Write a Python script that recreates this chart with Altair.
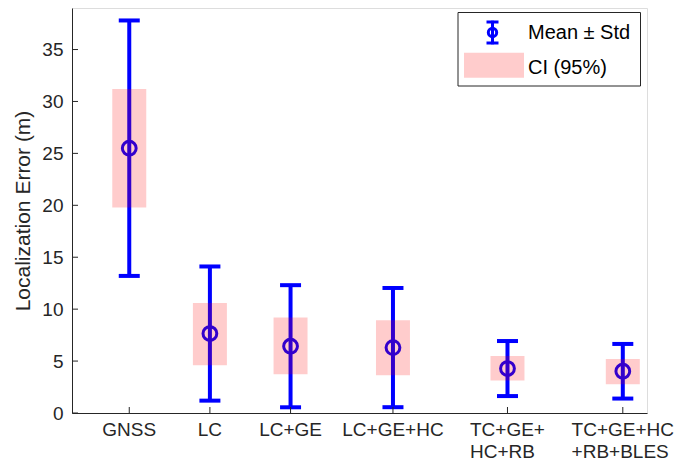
import altair as alt
import pandas as pd

# ---- data ----
categories = ["GNSS", "LC", "LC+GE", "LC+GE+HC", "TC+GE+\nHC+RB", "TC+GE+HC\n+RB+BLES"]
positions = [1, 2, 3, 4.27, 5.69, 7.12]
means = [25.5, 7.65, 6.43, 6.30, 4.28, 4.02]
stds = [12.3, 6.46, 5.88, 5.74, 2.65, 2.63]
ci_low = [19.8, 4.6, 3.73, 3.64, 3.12, 2.77]
ci_high = [31.2, 10.6, 9.2, 8.94, 5.5, 5.2]
y_ticks = [0, 5, 10, 15, 20, 25, 30, 35]

df = pd.DataFrame({
    "label": categories,
    "pos": positions,
    "mean": means,
    "std": stds,
    "ci_lo": ci_low,
    "ci_hi": ci_high,
})
df["lo"] = df["mean"] - df["std"]
df["hi"] = df["mean"] + df["std"]
df["multi"] = df["label"].str.contains("\n")

W, H = 575, 405
FONT = "Liberation Sans"
AX = "#262626"
BLUE = "#0000ff"
FS = 19

# approximate Arial/Liberation Sans advance widths (em) to left-align wrapped lines
_w = {"T": .611, "C": .722, "+": .584, "G": .778, "E": .667, "H": .722,
      "R": .722, "B": .667, "L": .556, "S": .667, "N": .722}


def first_line_width(s):
    return sum(_w.get(c, .6) for c in s.split("\n")[0]) * FS


xs = alt.Scale(domain=[0.29, 7.42], nice=False, zero=False)
ys = alt.Scale(domain=[0, 39], nice=False)

x_enc = alt.X("pos:Q", scale=xs,
              axis=alt.Axis(labels=False, ticks=False, grid=False, title=None,
                            domainColor=AX, domainWidth=1))
y_enc = alt.Y("mean:Q", scale=ys,
              axis=alt.Axis(values=y_ticks, tickSize=0, grid=False,
                            labelFont=FONT, labelFontSize=FS, labelColor=AX,
                            labelPadding=9, domainColor=AX, domainWidth=1,
                            title="Localization Error (m)", titleFont=FONT,
                            titleFontSize=21, titleFontWeight="normal",
                            titleColor=AX, titlePadding=8))

base = alt.Chart(df)

whisker = base.mark_rule(color=BLUE, strokeWidth=4).encode(
    x=x_enc, y=alt.Y("lo:Q", scale=ys), y2="hi:Q")
cap_lo = base.mark_rule(color=BLUE, strokeWidth=4, xOffset=-10.5, x2Offset=10.5,
                        strokeCap="butt").encode(
    x=alt.X("pos:Q", scale=xs), x2="pos:Q", y=alt.Y("lo:Q", scale=ys))
cap_hi = base.mark_rule(color=BLUE, strokeWidth=4, xOffset=-10.5, x2Offset=10.5,
                        strokeCap="butt").encode(
    x=alt.X("pos:Q", scale=xs), x2="pos:Q", y=alt.Y("hi:Q", scale=ys))
points = base.mark_point(shape="circle", filled=False, color=BLUE,
                         strokeWidth=3, size=190, opacity=1).encode(
    x=alt.X("pos:Q", scale=xs), y=y_enc)
ci = base.mark_rect(color="#ff0000", opacity=0.2, xOffset=-17, x2Offset=17).encode(
    x=alt.X("pos:Q", scale=xs), x2="pos:Q",
    y=alt.Y("ci_lo:Q", scale=ys), y2="ci_hi:Q")

# inward ticks like MATLAB
ytick_df = pd.DataFrame({"v": y_ticks})
yticks = alt.Chart(ytick_df).mark_rule(color=AX, strokeWidth=1).encode(
    y=alt.Y("v:Q", scale=ys), x=alt.value(0), x2=alt.value(6))
xticks = base.mark_rule(color=AX, strokeWidth=1).encode(
    x=alt.X("pos:Q", scale=xs), y=alt.value(H), y2=alt.value(H - 6))

# category labels: single-line centred, wrapped ones left-aligned as a centred block
label_layers = [
    base.transform_filter("!datum.multi").mark_text(
        font=FONT, fontSize=FS, color=AX, align="center", baseline="top").encode(
        x=alt.X("pos:Q", scale=xs), y=alt.value(H + 8), text="label:N")
]
for lab in df.loc[df["multi"], "label"]:
    label_layers.append(
        alt.Chart(df[df["label"] == lab]).mark_text(
            font=FONT, fontSize=FS, color=AX, align="left", baseline="top",
            lineBreak="\n", lineHeight=22, dx=-first_line_width(lab) / 2).encode(
            x=alt.X("pos:Q", scale=xs), y=alt.value(H + 8), text="label:N")
    )

# ---- legend ----
one = alt.Data(values=[{"a": 1}])
leg_box = alt.Chart(one).mark_rect(fill="white", stroke=AX, strokeWidth=1).encode(
    x=alt.value(386), x2=alt.value(568.5), y=alt.value(4.5), y2=alt.value(78))
leg_bar = alt.Chart(one).mark_rule(color=BLUE, strokeWidth=3).encode(
    x=alt.value(420.5), y=alt.value(12.7), y2=alt.value(36.3))
leg_cap1 = alt.Chart(one).mark_rule(color=BLUE, strokeWidth=3).encode(
    x=alt.value(414.5), x2=alt.value(426.5), y=alt.value(14))
leg_cap2 = alt.Chart(one).mark_rule(color=BLUE, strokeWidth=3).encode(
    x=alt.value(414.5), x2=alt.value(426.5), y=alt.value(35))
leg_circ = alt.Chart(one).mark_point(shape="circle", filled=False, color=BLUE,
                                     strokeWidth=3, size=70, opacity=1).encode(
    x=alt.value(420.5), y=alt.value(24.5))
leg_patch = alt.Chart(one).mark_rect(fill="#ffcccc").encode(
    x=alt.value(392), x2=alt.value(452), y=alt.value(44.7), y2=alt.value(69.7))
leg_t1 = alt.Chart(one).mark_text(font=FONT, fontSize=20, color="black",
                                  align="left", baseline="middle").encode(
    x=alt.value(456), y=alt.value(25), text=alt.value("Mean ± Std"))
leg_t2 = alt.Chart(one).mark_text(font=FONT, fontSize=20, color="black",
                                  align="left", baseline="middle").encode(
    x=alt.value(456), y=alt.value(59.5), text=alt.value("CI (95%)"))

chart = alt.layer(
    whisker, cap_lo, cap_hi, points, ci, yticks, xticks, *label_layers,
    leg_box, leg_bar, leg_cap1, leg_cap2, leg_circ, leg_patch, leg_t1, leg_t2
).properties(
    width=W, height=H,
    autosize=alt.AutoSizeParams(type="none"),
    padding={"left": 64, "top": 0, "right": 36, "bottom": 47},
).configure_view(stroke=None).configure(background="white")

chart.save("out.html", embed_options={"renderer": "svg", "actions": False})
